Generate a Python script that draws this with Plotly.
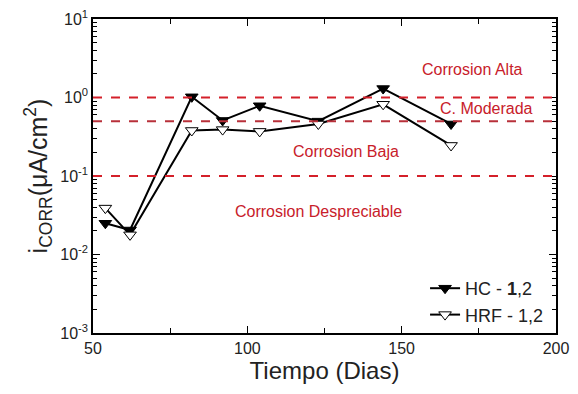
import math
import plotly.graph_objects as go

dias = [54, 62, 82, 92, 104, 123, 144, 166]
hc = [0.025, 0.0205, 1.02, 0.51, 0.785, 0.50, 1.3, 0.46]
hrf = [0.039, 0.0178, 0.38, 0.39, 0.37, 0.46, 0.82, 0.245]
umbrales = [1.0, 0.5, 0.1]
zonas = ["Corrosion Alta", "C. Moderada", "Corrosion Baja", "Corrosion Despreciable"]
zonas_x = [173, 177.5, 132, 123]
zonas_y = [2.26, 0.72, 0.205, 0.035]
y_ticks = [0.001, 0.01, 0.1, 1, 10]
y_labels = ["10<sup>-3</sup>", "10<sup>-2</sup>", "10<sup>-1</sup>", "10<sup>0</sup>", "10<sup>1</sup>"]

minor_y = [m * 10.0 ** e for e in range(-3, 1) for m in range(2, 10)]

fig = go.Figure()
for u in umbrales:
    fig.add_shape(type="line", xref="paper", x0=0, x1=1, yref="y", y0=u, y1=u,
                  line=dict(color="#d4202a" if u != 0.5 else "#b8303a", width=2, dash="dash"))

fig.add_trace(go.Scatter(x=dias, y=hc, mode="lines+markers", name="HC - <b>1</b>,2",
                         line=dict(color="black", width=2),
                         marker=dict(symbol="triangle-down", size=11, color="black",
                                     line=dict(color="black", width=1))))
fig.add_trace(go.Scatter(x=dias, y=hrf, mode="lines+markers", name="HRF - 1,2",
                         line=dict(color="black", width=2),
                         marker=dict(symbol="triangle-down", size=11, color="white",
                                     line=dict(color="black", width=1))))

for t, x, y in zip(zonas, zonas_x, zonas_y):
    fig.add_annotation(x=x, y=math.log10(y), yref="y", xref="x", text=t, showarrow=False,
                       font=dict(color="#c8202a", size=16, family="Liberation Sans"))

fig.update_xaxes(range=[50, 200], tickvals=[50, 100, 150, 200], ticks="inside", ticklen=7,
                 tickwidth=1.2, tickcolor="black", showline=True, linecolor="black",
                 linewidth=1.5, mirror="ticks", showgrid=False, zeroline=False,
                 automargin=False, ticklabeloverflow="allow",
                 minor=dict(tickmode="array", tickvals=[75, 125, 175], ticks="inside",
                            ticklen=5, tickwidth=1.2, tickcolor="black", showgrid=False),
                 tickfont=dict(size=16, color="#222"),
                 title=dict(text="Tiempo (Dias)", font=dict(size=24, color="#222"), standoff=4))
fig.update_yaxes(type="log", range=[-3, 1], tickvals=y_ticks, ticktext=y_labels,
                 ticks="inside", ticklen=7, tickwidth=1.2, tickcolor="black", showline=True,
                 linecolor="black", linewidth=1.5, mirror="ticks", showgrid=False,
                 zeroline=False, automargin=False, ticklabeloverflow="allow",
                 minor=dict(tickmode="array", tickvals=minor_y, ticks="inside", ticklen=4,
                            tickwidth=1, tickcolor="black", showgrid=False),
                 tickfont=dict(size=16, color="#222"),
                 title=dict(text="i<sub>CORR</sub>(\u03bcA/cm<sup>2</sup>)", font=dict(size=25, color="#222"), standoff=6))

fig.update_layout(width=570, height=386, margin=dict(l=85, r=22, t=11, b=61),
                  plot_bgcolor="white", paper_bgcolor="white",
                  font=dict(family="Liberation Sans"),
                  legend=dict(x=0.985, y=0.0, xanchor="right", yanchor="bottom",
                              bgcolor="rgba(0,0,0,0)", font=dict(size=18, color="#222"),
                              tracegroupgap=0, itemwidth=30))

fig.write_html("out.html")
